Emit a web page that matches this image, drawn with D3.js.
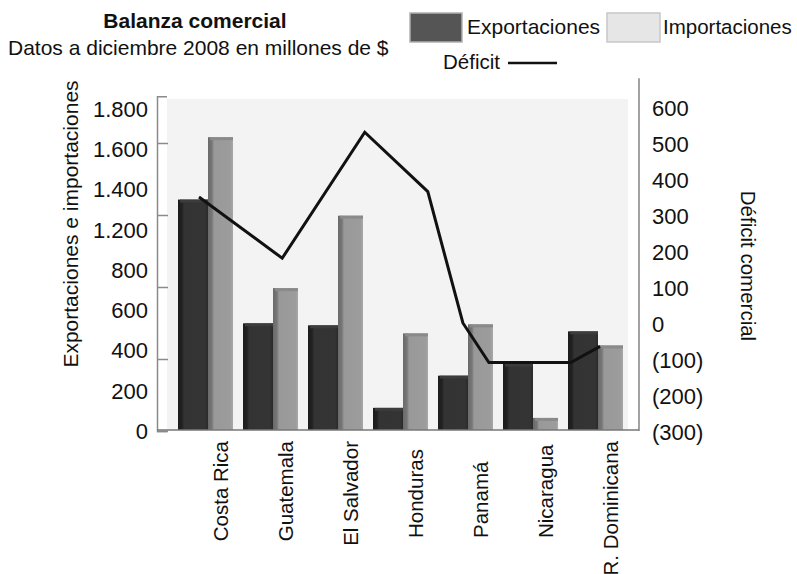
<!DOCTYPE html>
<html>
<head>
<meta charset="utf-8">
<script src="https://cdn.jsdelivr.net/npm/d3@7"></script>
<style>
  body { margin: 0; background: #fff; }
  text { font-family: "Liberation Sans", Arial, sans-serif; fill: #111; }
</style>
</head>
<body>
<svg id="chart" width="797" height="574"></svg>
<script>
// Balanza comercial, datos a diciembre 2008 (millones de $)
const categories = ["Costa Rica", "Guatemala", "El Salvador", "Honduras", "Panamá", "Nicaragua", "R. Dominicana"];
const exportaciones = [1345, 530, 520, 110, 270, 330, 490];
const importaciones = [1655, 705, 1265, 480, 525, 60, 420];
// Déficit line vertices: position along the category axis (0 = first country) and value
const deficitAt = [-0.1, 1.18, 2.45, 3.42, 3.96, 4.36, 5.62, 6.07];
const deficit = [350, 180, 530, 365, 0, -110, -110, -65];
const leftTicks = [0, 200, 400, 600, 800, 1200, 1400, 1600, 1800];
const rightTicks = [600, 500, 400, 300, 200, 100, 0, -100, -200, -300];
const frameTicks = [-300, -100, 100, 300, 500];

const svg = d3.select("#chart");
const esLocale = d3.formatLocale({ decimal: ",", thousands: ".", grouping: [3], currency: ["", " $"] });
const fmtLeft = esLocale.format(",");
const fmtRight = d => d < 0 ? `(${-d})` : `${d}`;

// Layout
const plot = { left: 157, right: 639, bottom: 430, panelL: 167, panelR: 628, panelT: 99 };

// Scales
const x = d3.scaleBand().domain(categories).range([178, 623]).paddingInner(10 / 65).paddingOuter(0);
const expW = x.bandwidth() * 30 / 55;
const impW = x.bandwidth() - expW;
const xLine = d3.scaleLinear().domain([0, categories.length - 1])
  .range([x(categories[0]) + x.bandwidth() / 2, x(categories[categories.length - 1]) + x.bandwidth() / 2]);
// Left tick labels are evenly spaced, so the left scale is piecewise linear through them
const yLeft = d3.scaleLinear().domain(leftTicks)
  .range(leftTicks.map((d, i) => plot.bottom - i * 40.25));
const yRight = d3.scaleLinear().domain([-300, 600]).range([431, 107]);

// Gradients giving the bars their bevelled look
const defs = svg.append("defs");
function grad(id, stops) {
  const g = defs.append("linearGradient").attr("id", id).attr("x1", 0).attr("x2", 1).attr("y1", 0).attr("y2", 0);
  stops.forEach(([o, c]) => g.append("stop").attr("offset", o).attr("stop-color", c));
}
grad("gExp", [[0, "#1c1c1c"], [0.14, "#222"], [0.2, "#333"], [0.9, "#343434"], [1, "#2a2a2a"]]);
grad("gImp", [[0, "#6a6a6a"], [0.16, "#777"], [0.24, "#999"], [0.9, "#9c9c9c"], [1, "#a8a8a8"]]);

// Plot panel
svg.append("rect").attr("x", plot.panelL).attr("y", plot.panelT)
  .attr("width", plot.panelR - plot.panelL).attr("height", plot.bottom - plot.panelT)
  .attr("fill", "#f3f3f3");

// Bars
const g = svg.append("g");
g.selectAll("rect.exp").data(categories).join("rect").attr("class", "exp")
  .attr("x", d => x(d)).attr("width", expW)
  .attr("y", (d, i) => yLeft(exportaciones[i]))
  .attr("height", (d, i) => yLeft(0) - yLeft(exportaciones[i]))
  .attr("fill", "url(#gExp)");
g.selectAll("rect.imp").data(categories).join("rect").attr("class", "imp")
  .attr("x", d => x(d) + expW).attr("width", impW)
  .attr("y", (d, i) => yLeft(importaciones[i]))
  .attr("height", (d, i) => yLeft(0) - yLeft(importaciones[i]))
  .attr("fill", "url(#gImp)");
// small highlight cap along each bar top
g.selectAll("rect.cap").data(categories.flatMap((d, i) => [
    { x: x(d), w: expW, v: exportaciones[i], c: "#3c3c3c" },
    { x: x(d) + expW, w: impW, v: importaciones[i], c: "#8a8a8a" }]))
  .join("rect").attr("class", "cap")
  .attr("x", d => d.x + 2).attr("width", d => d.w - 2)
  .attr("y", d => yLeft(d.v)).attr("height", 3).attr("fill", d => d.c);

// Déficit line
const line = d3.line().x(d => xLine(d[0])).y(d => yRight(d[1]));
svg.append("path").datum(deficitAt.map((p, i) => [p, deficit[i]]))
  .attr("d", line).attr("fill", "none").attr("stroke", "#111")
  .attr("stroke-width", 3).attr("stroke-linejoin", "miter");

// Left frame line with inward tick marks
const frameScale = yRight.copy().domain([-300, 630]).range([yRight(-300), yRight(630)]);
const frame = svg.append("g").attr("transform", `translate(${plot.left},0)`)
  .call(d3.axisRight(frameScale).tickValues(frameTicks).tickSizeInner(11).tickSizeOuter(10).tickFormat(""));
frame.selectAll("path, line").attr("stroke", "#8a8a8a").attr("stroke-width", 1.5);

// Left tick labels
const leftAxis = svg.append("g").attr("transform", `translate(${plot.left - 9},0)`)
  .call(d3.axisLeft(yLeft).tickValues(leftTicks).tickSize(0).tickPadding(0).tickFormat(fmtLeft));
leftAxis.select(".domain").remove();
leftAxis.selectAll("text").attr("font-size", 22).attr("font-family", "Liberation Sans, Arial, sans-serif").attr("fill", "#111").attr("dy", "0.38em");

// Right axis
svg.append("line").attr("x1", plot.right).attr("x2", plot.right)
  .attr("y1", yRight(-300)).attr("y2", yRight(680)).attr("stroke", "#666").attr("stroke-width", 1.2);
const rightAxis = svg.append("g").attr("transform", `translate(${plot.right},0)`)
  .call(d3.axisRight(yRight).tickValues(rightTicks).tickSize(0).tickPadding(13).tickFormat(fmtRight));
rightAxis.select(".domain").remove();
rightAxis.selectAll("text").attr("font-size", 22).attr("font-family", "Liberation Sans, Arial, sans-serif").attr("fill", "#111").attr("dy", "0.38em");

// Bottom baseline
svg.append("line").attr("x1", plot.left).attr("x2", plot.right)
  .attr("y1", plot.bottom).attr("y2", plot.bottom).attr("stroke", "#777").attr("stroke-width", 1.5);

// Category labels, read upward, centred on the import bar
const cat = svg.append("g").selectAll("text").data(categories).join("text")
  .attr("font-size", 20.5).attr("text-anchor", "start").attr("dy", "0.35em")
  .text(d => d);
cat.attr("transform", function (d) {
  const len = this.getComputedTextLength();
  const y0 = Math.max(538, 441 + len);
  return `translate(${x(d) + expW + impW / 2},${y0}) rotate(-90)`;
});

// Axis titles
svg.append("text").attr("transform", "translate(71,224) rotate(-90)")
  .attr("text-anchor", "middle").attr("dy", "0.35em").attr("font-size", 21)
  .text("Exportaciones e importaciones");
svg.append("text").attr("transform", "translate(748,266) rotate(90)")
  .attr("text-anchor", "middle").attr("dy", "0.35em").attr("font-size", 20.5)
  .text("Déficit comercial");

// Title and subtitle
svg.append("text").attr("x", 195).attr("y", 28).attr("text-anchor", "middle")
  .attr("font-size", 21).attr("font-weight", "bold").text("Balanza comercial");
svg.append("text").attr("x", 8).attr("y", 55).attr("font-size", 21)
  .text("Datos a diciembre 2008 en millones de $");

// Legend
svg.append("rect").attr("x", 410).attr("y", 13).attr("width", 52).attr("height", 29)
  .attr("fill", "#555").attr("stroke", "#b0b0b0").attr("stroke-width", 1.5);
svg.append("text").attr("x", 467).attr("y", 34).attr("font-size", 21).text("Exportaciones");
svg.append("rect").attr("x", 607).attr("y", 13).attr("width", 53).attr("height", 29)
  .attr("fill", "#e6e6e6").attr("stroke", "#c8c8c8").attr("stroke-width", 1.5);
svg.append("text").attr("x", 663).attr("y", 34).attr("font-size", 20.5).text("Importaciones");
svg.append("text").attr("x", 443).attr("y", 69).attr("font-size", 20.5).text("Déficit");
svg.append("line").attr("x1", 508).attr("x2", 557).attr("y1", 63).attr("y2", 63)
  .attr("stroke", "#111").attr("stroke-width", 2.5);
</script>
</body>
</html>
